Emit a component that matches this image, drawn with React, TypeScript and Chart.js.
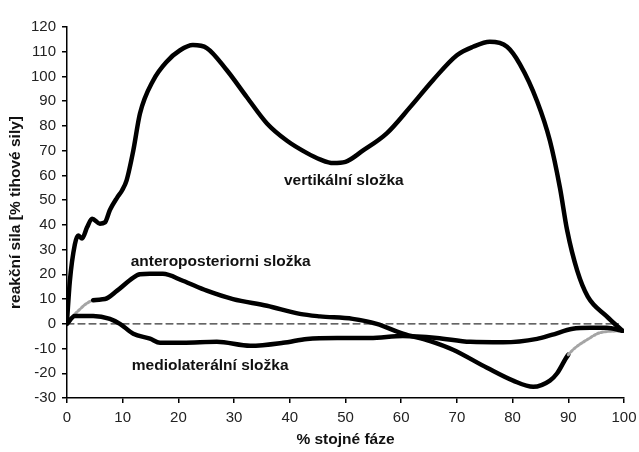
import { useEffect, useRef } from "react";
import { Chart, registerables } from "chart.js";

Chart.register(...registerables);

// x = % stojné fáze, y = reakční síla [% tíhové síly]
const vertX = [0, 0.5, 1.4, 2, 2.7, 3.6, 4.5, 5.9, 6.8, 7.7, 9, 9.9, 10.7, 11.9, 13.1, 15.5, 17.9, 20.3, 22.6, 25.1, 28.7, 32.3, 35.9, 39.5, 43.1, 45.4, 47.8, 50, 53.1, 57.4, 61.6, 65.7, 70, 72.9, 75.9, 79, 81.3, 84.4, 86.7, 88.5, 89.8, 91.6, 93.5, 96.9, 99.7];
const vertY = [1, 17, 32, 35.7, 34.5, 39, 42.5, 40.5, 41, 46, 51, 54, 58, 70, 85, 98.5, 106, 110.6, 112.7, 111.5, 102.5, 91.6, 81, 74, 69, 66.5, 65, 65.5, 70, 77, 87.6, 98.5, 108.6, 112, 114, 112, 105, 90, 74, 55, 37.7, 21.5, 11, 3, -2.8];

const apX = [0, 4.7, 6.8, 9, 11.9, 13.1, 14.9, 17.2, 20.8, 25.1, 29.8, 35.9, 41.8, 45.4, 51.3, 55.6, 60.3, 65.2, 69.3, 75.4, 80.1, 83.7, 86.7, 88, 90, 93.9, 95.7, 99.7];
const apY = [1, 9.5, 10, 13.4, 18.7, 20, 20.2, 20.2, 17.4, 13.4, 10, 7.3, 4, 3, 2, 0, -4, -7, -10.5, -17.8, -23, -25.5, -23, -20, -12.5, -5.7, -3.6, -2.8];
const apGrayUntil = 4.7;
const apGrayFrom = 90;

const mlX = [0, 1.4, 4.7, 7.7, 9.5, 11.9, 14.9, 16.7, 20.8, 26.9, 32.9, 38.8, 43.1, 48.5, 54.4, 60.3, 66.4, 72.4, 78.3, 84.4, 87, 90.8, 93.9, 96.9, 99.7];
const mlY = [0, 3.2, 3.2, 2, 0, -4, -6, -7.7, -7.7, -7.3, -8.9, -7.7, -6.1, -5.7, -5.7, -4.9, -5.7, -7.3, -7.5, -6.1, -4.5, -2, -1.6, -1.6, -2.8];

const zeroX = [0, 99];
const zeroY = [0, 0];

const labelTexts = ["vertikální složka", "anteroposteriorni složka", "mediolaterální složka"];
const labelX = [49.7, 27.6, 25.7];
const labelY = [58, 25.3, -16.8];

const xTitle = "% stojné fáze";
const yTitle = "reakční sila [% tihové sily]";

const FONT = '"Liberation Sans", Arial, sans-serif';

export default function App() {
  const ref = useRef<HTMLCanvasElement>(null);

  useEffect(() => {
    const zip = (xs: number[], ys: number[]) => xs.map((x, i) => ({ x, y: ys[i] }));
    const annot = {
      id: "annot",
      afterDatasetsDraw(chart: any) {
        const { ctx, scales } = chart;
        ctx.save();
        ctx.font = `bold 15.5px ${FONT}`;
        ctx.fillStyle = "#111";
        ctx.textAlign = "center";
        ctx.textBaseline = "middle";
        labelTexts.forEach((t, i) => {
          ctx.fillText(t, scales.x.getPixelForValue(labelX[i]), scales.y.getPixelForValue(labelY[i]));
        });
        ctx.restore();
      },
    };

    const isGray = (c: any) => c.p1.parsed.x <= apGrayUntil || c.p0.parsed.x >= apGrayFrom;

    const chart = new Chart(ref.current as HTMLCanvasElement, {
      type: "line",
      data: {
        datasets: [
          { data: zip(vertX, vertY) },
          { data: zip(mlX, mlY) },
          {
            data: zip(apX, apY),
            segment: {
              borderColor: (c: any) => (isGray(c) ? "#a5a5a5" : "#000"),
              borderWidth: (c: any) => (isGray(c) ? 3 : 4.5),
              borderDash: (c: any) => (isGray(c) ? [2, 2] : []),
            },
          } as any,
          {
            data: zip(zeroX, zeroY),
            borderColor: "#333",
            borderWidth: 1.2,
            borderDash: [7, 4],
            cubicInterpolationMode: "default",
            tension: 0,
          } as any,
        ],
      },
      options: {
        responsive: false,
        animation: false,
        layout: { padding: { top: 27, right: 15, left: 0, bottom: 0 } },
        plugins: { legend: { display: false }, tooltip: { enabled: false } },
        elements: {
          point: { radius: 0 },
          line: {
            borderColor: "#000",
            borderWidth: 4.5,
            cubicInterpolationMode: "monotone",
            borderCapStyle: "round",
            borderJoinStyle: "round",
            fill: false,
          },
        },
        scales: {
          x: {
            type: "linear",
            min: 0,
            max: 100,
            afterFit: (s: any) => {
              s.height = 54;
              s.paddingRight = 0;
              s.paddingLeft = 0;
            },
            ticks: { stepSize: 10, color: "#222", padding: 6, font: { size: 15, family: FONT } },
            grid: { display: true, drawOnChartArea: false, drawTicks: true, tickLength: 5, color: "#000", lineWidth: 1.5 },
            border: { display: true, color: "#000", width: 1.5 },
            title: {
              display: true,
              text: xTitle,
              color: "#111",
              font: { size: 15.5, weight: "bold", family: FONT },
              padding: { top: 0, bottom: 3 },
            },
          },
          y: {
            type: "linear",
            min: -30,
            max: 120,
            afterFit: (s: any) => {
              s.width = 67;
            },
            ticks: { stepSize: 10, color: "#222", padding: 6, font: { size: 15, family: FONT } },
            grid: { display: true, drawOnChartArea: false, drawTicks: true, tickLength: 5, color: "#000", lineWidth: 1.5 },
            border: { display: true, color: "#000", width: 1.5 },
            title: {
              display: true,
              text: yTitle,
              color: "#111",
              font: { size: 15.5, weight: "bold", family: FONT },
              padding: { top: 6, bottom: 0 },
            },
          },
        },
      } as any,
      plugins: [annot],
    });
    return () => chart.destroy();
  }, []);

  return (
    <canvas
      ref={ref}
      width={639}
      height={452}
      style={{ position: "absolute", left: 0, top: 0, width: 639, height: 452, background: "#fff" }}
    />
  );
}
